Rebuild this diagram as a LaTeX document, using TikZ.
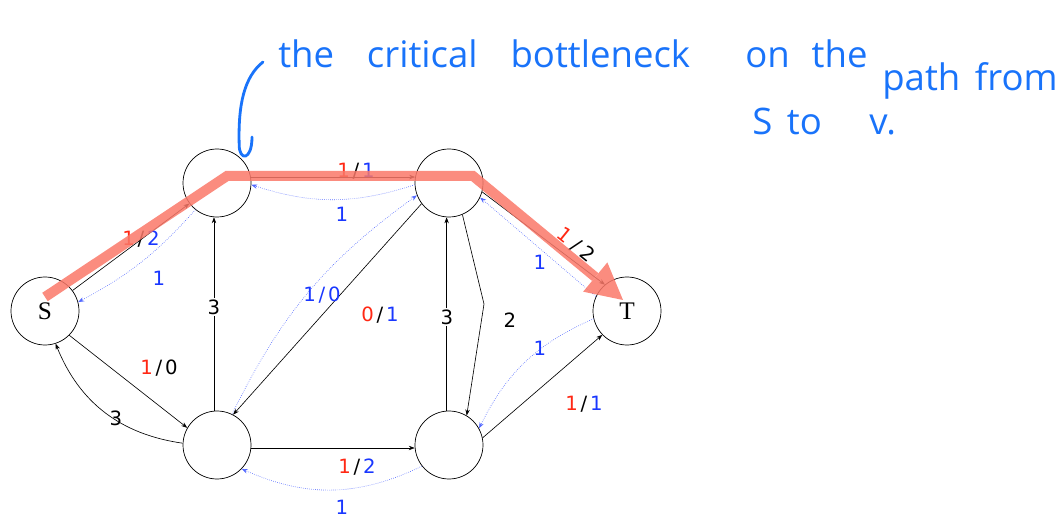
\documentclass[tikz,border=0pt]{standalone}
\usepackage{fontspec}
\usetikzlibrary{arrows.meta,positioning,calc}
\setsansfont{DejaVu Sans}
\newfontfamily\handfont{Open Sans}
\newfontfamily\vtxfont{Liberation Serif}
\definecolor{flowred}{RGB}{255,40,20}
\definecolor{resblue}{RGB}{25,55,255}
\definecolor{inkblue}{RGB}{25,115,250}
\definecolor{hilite}{RGB}{250,120,105}
\newcommand{\fr}[2]{\textcolor{flowred}{#1}\kern2pt/\kern2pt#2}
\newcommand{\bl}[1]{\textcolor{resblue}{#1}}

\begin{document}
\begin{tikzpicture}[
  vtx/.style={circle, draw, line width=0.5pt, minimum size=1.7cm, inner sep=0pt, font=\vtxfont\fontsize{18}{20}\selectfont},
  fwd/.style={-{Stealth[length=1.5mm,width=1.1mm]}, line width=0.45pt},
  res/.style={-{Stealth[length=1.5mm,width=1.1mm]}, densely dotted, line width=0.45pt, resblue!75},
  lbl/.style={font=\sffamily\fontsize{14}{16}\selectfont, inner sep=1pt},
  hand/.style={font=\handfont\fontsize{26}{28}\selectfont, text=inkblue, anchor=base west, inner sep=0pt}
]
  \useasboundingbox (0,0) rectangle (26.575,12.925);

  % vertices
  \node[vtx] (s) at (1.125,5.15) {S};
  \node[vtx] (tl) at (5.425,8.35) {};
  \node[vtx] (tr) at (11.225,8.35) {};
  \node[vtx] (t) at (15.675,5.15) {T};
  \node[vtx] (bl) at (5.425,1.8) {};
  \node[vtx] (br) at (11.225,1.8) {};
  \coordinate (kink) at (12.1,5.325);

  % forward edges and residual edges
  \draw[fwd] (s) -- (tl);
  \draw[res] (tl.231) to[bend left=10] (s.15);
  \draw[fwd] (tl.10) -- (tr.170);
  \draw[res] (tr.183) to[bend left=18] (tl.-3);
  \draw[fwd] (tr.-15) -- (t.130);
  \draw[res] (t.155) -- (tr.-25);
  \draw[fwd] (s.-45) -- (bl.150);
  \draw[fwd] (bl.177) to[bend left=30] (s.-72);
  \draw[fwd] (bl.95) -- (tl.-95);
  \draw[fwd] (tr.217) -- (bl.62);
  \draw[res] (bl.64) to[bend left=14] (tr.201);
  \draw[fwd] (br.94) -- (tr.-94);
  \draw[fwd] (tr.-67) -- (kink) -- (br.59);
  \draw[fwd] (bl.-5) -- (br.185);
  \draw[res] (br.218) to[bend left=25] (bl.-44);
  \draw[fwd] (br.12) -- (t.224);
  \draw[res] (t.193) to[bend right=20] (br.29);

  % labels
  \node[lbl] at (3.525,6.95) {\fr{1}{\bl{2}}};
  \node[lbl] at (3.975,5.975) {\bl{1}};
  \node[lbl] at (8.9,8.65) {\fr{1}{\bl{1}}};
  \node[lbl] at (8.55,7.575) {\bl{1}};
  \node[lbl, rotate=-39] at (14.4,6.8) {\textcolor{flowred}{1}\kern4pt/\kern3pt2};
  \node[lbl] at (13.5,6.375) {\bl{1}};
  \node[lbl] at (3.975,3.725) {\fr{1}{0}};
  \node[lbl] at (2.9,2.475) {3};
  \node[lbl, fill=white] at (5.35,5.25) {3};
  \node[lbl] at (8.05,5.55) {\bl{1\kern2pt/\kern2pt0}};
  \node[lbl] at (9.5,5.05) {\fr{0}{\bl{1}}};
  \node[lbl, fill=white] at (11.175,5.0) {3};
  \node[lbl] at (12.75,4.925) {2};
  \node[lbl] at (8.925,1.25) {\fr{1}{\bl{2}}};
  \node[lbl] at (8.55,0.25) {\bl{1}};
  \node[lbl] at (14.6,2.825) {\fr{1}{\bl{1}}};
  \node[lbl] at (13.5,4.225) {\bl{1}};

  % highlighted bottleneck path
  \coordinate (h0) at (1.125,5.5);
  \coordinate (h1) at (5.675,8.525);
  \coordinate (h2) at (11.825,8.525);
  \coordinate (h3) at (15.575,5.425);
  \begin{scope}[transparency group, opacity=0.85]
    \draw[line width=0.25cm, hilite, -{Triangle[length=0.9cm,width=0.95cm,line width=0pt]}]
      (h0) -- (h1) -- (h2) -- (h3);
  \end{scope}

  % handwritten note
  \draw[inkblue, line width=2pt, line cap=round]
    (6.575,11.375) .. controls (6.1,11.0) and (5.95,10.3) .. (5.98,9.3)
    .. controls (5.98,8.9) and (6.3,8.9) .. (6.3,9.5);
  \node[hand] (note1) at (6.95,11.225) {the\hspace{0.9em}critical\hspace{0.9em}bottleneck};
  \node[hand] (note2) at (18.625,11.225) {on\hspace{0.6em}the};
  \node[hand] (note3) at (22.05,10.65) {path\hspace{0.4em}from};
  \node[hand] (note4) at (18.8,9.55) {S\hspace{0.4em}to\hspace{1.3em}v.};
\end{tikzpicture}
\end{document}
